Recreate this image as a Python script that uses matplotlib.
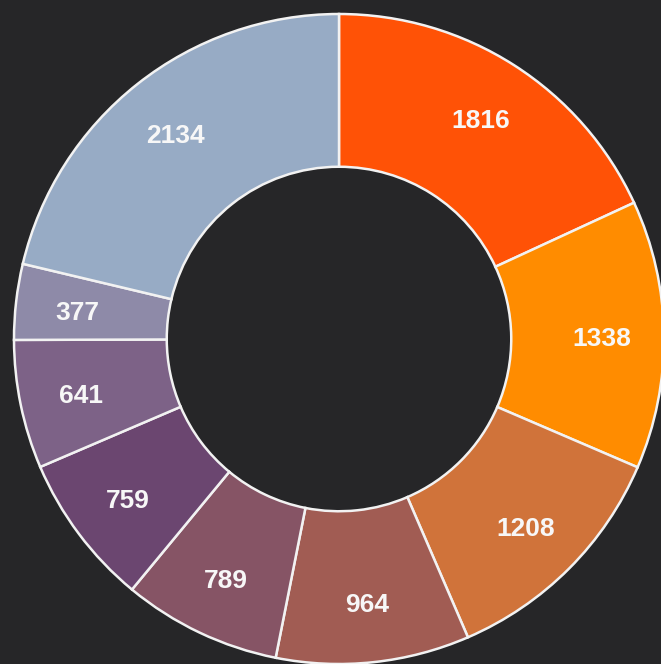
import numpy as np
import matplotlib.pyplot as plt

valores = [1816, 1338, 1208, 964, 789, 759, 641, 377, 2134]
cores = ["#FF5206", "#FF8C00", "#D0733A", "#A15C53", "#865465",
         "#6B4670", "#7D6287", "#8E8AA8", "#97ABC5"]

fundo = "#262628"

fig = plt.figure(figsize=(6.61, 6.64), dpi=100, facecolor=fundo)
ax = fig.add_axes([0, 0, 1, 1])
ax.set_facecolor(fundo)

wedges, _ = ax.pie(valores, colors=cores, startangle=90, counterclock=False,
                   radius=1.0,
                   wedgeprops=dict(width=0.47, edgecolor="#F2F2F2", linewidth=1.8))

# centro em (339, 339) px, raio 325 px
R = 325.0

# rotulos no meio do anel
total = sum(valores)
ang = 90.0
for v in valores:
    meio = ang - 360.0 * v / total / 2
    ang -= 360.0 * v / total
    r = 0.81
    ax.text(r * np.cos(np.radians(meio)), r * np.sin(np.radians(meio)) - 4 / R, str(v),
            ha="center", va="center", color="#F7F7F7", fontsize=19,
            fontweight="bold", family=["Liberation Sans", "DejaVu Sans"])

ax.set_xlim(-339 / R, (661 - 339) / R)
ax.set_ylim(-(664 - 339) / R, 339 / R)
ax.set_aspect("auto")
ax.axis("off")

plt.savefig("out.png", dpi=100, facecolor=fundo)
